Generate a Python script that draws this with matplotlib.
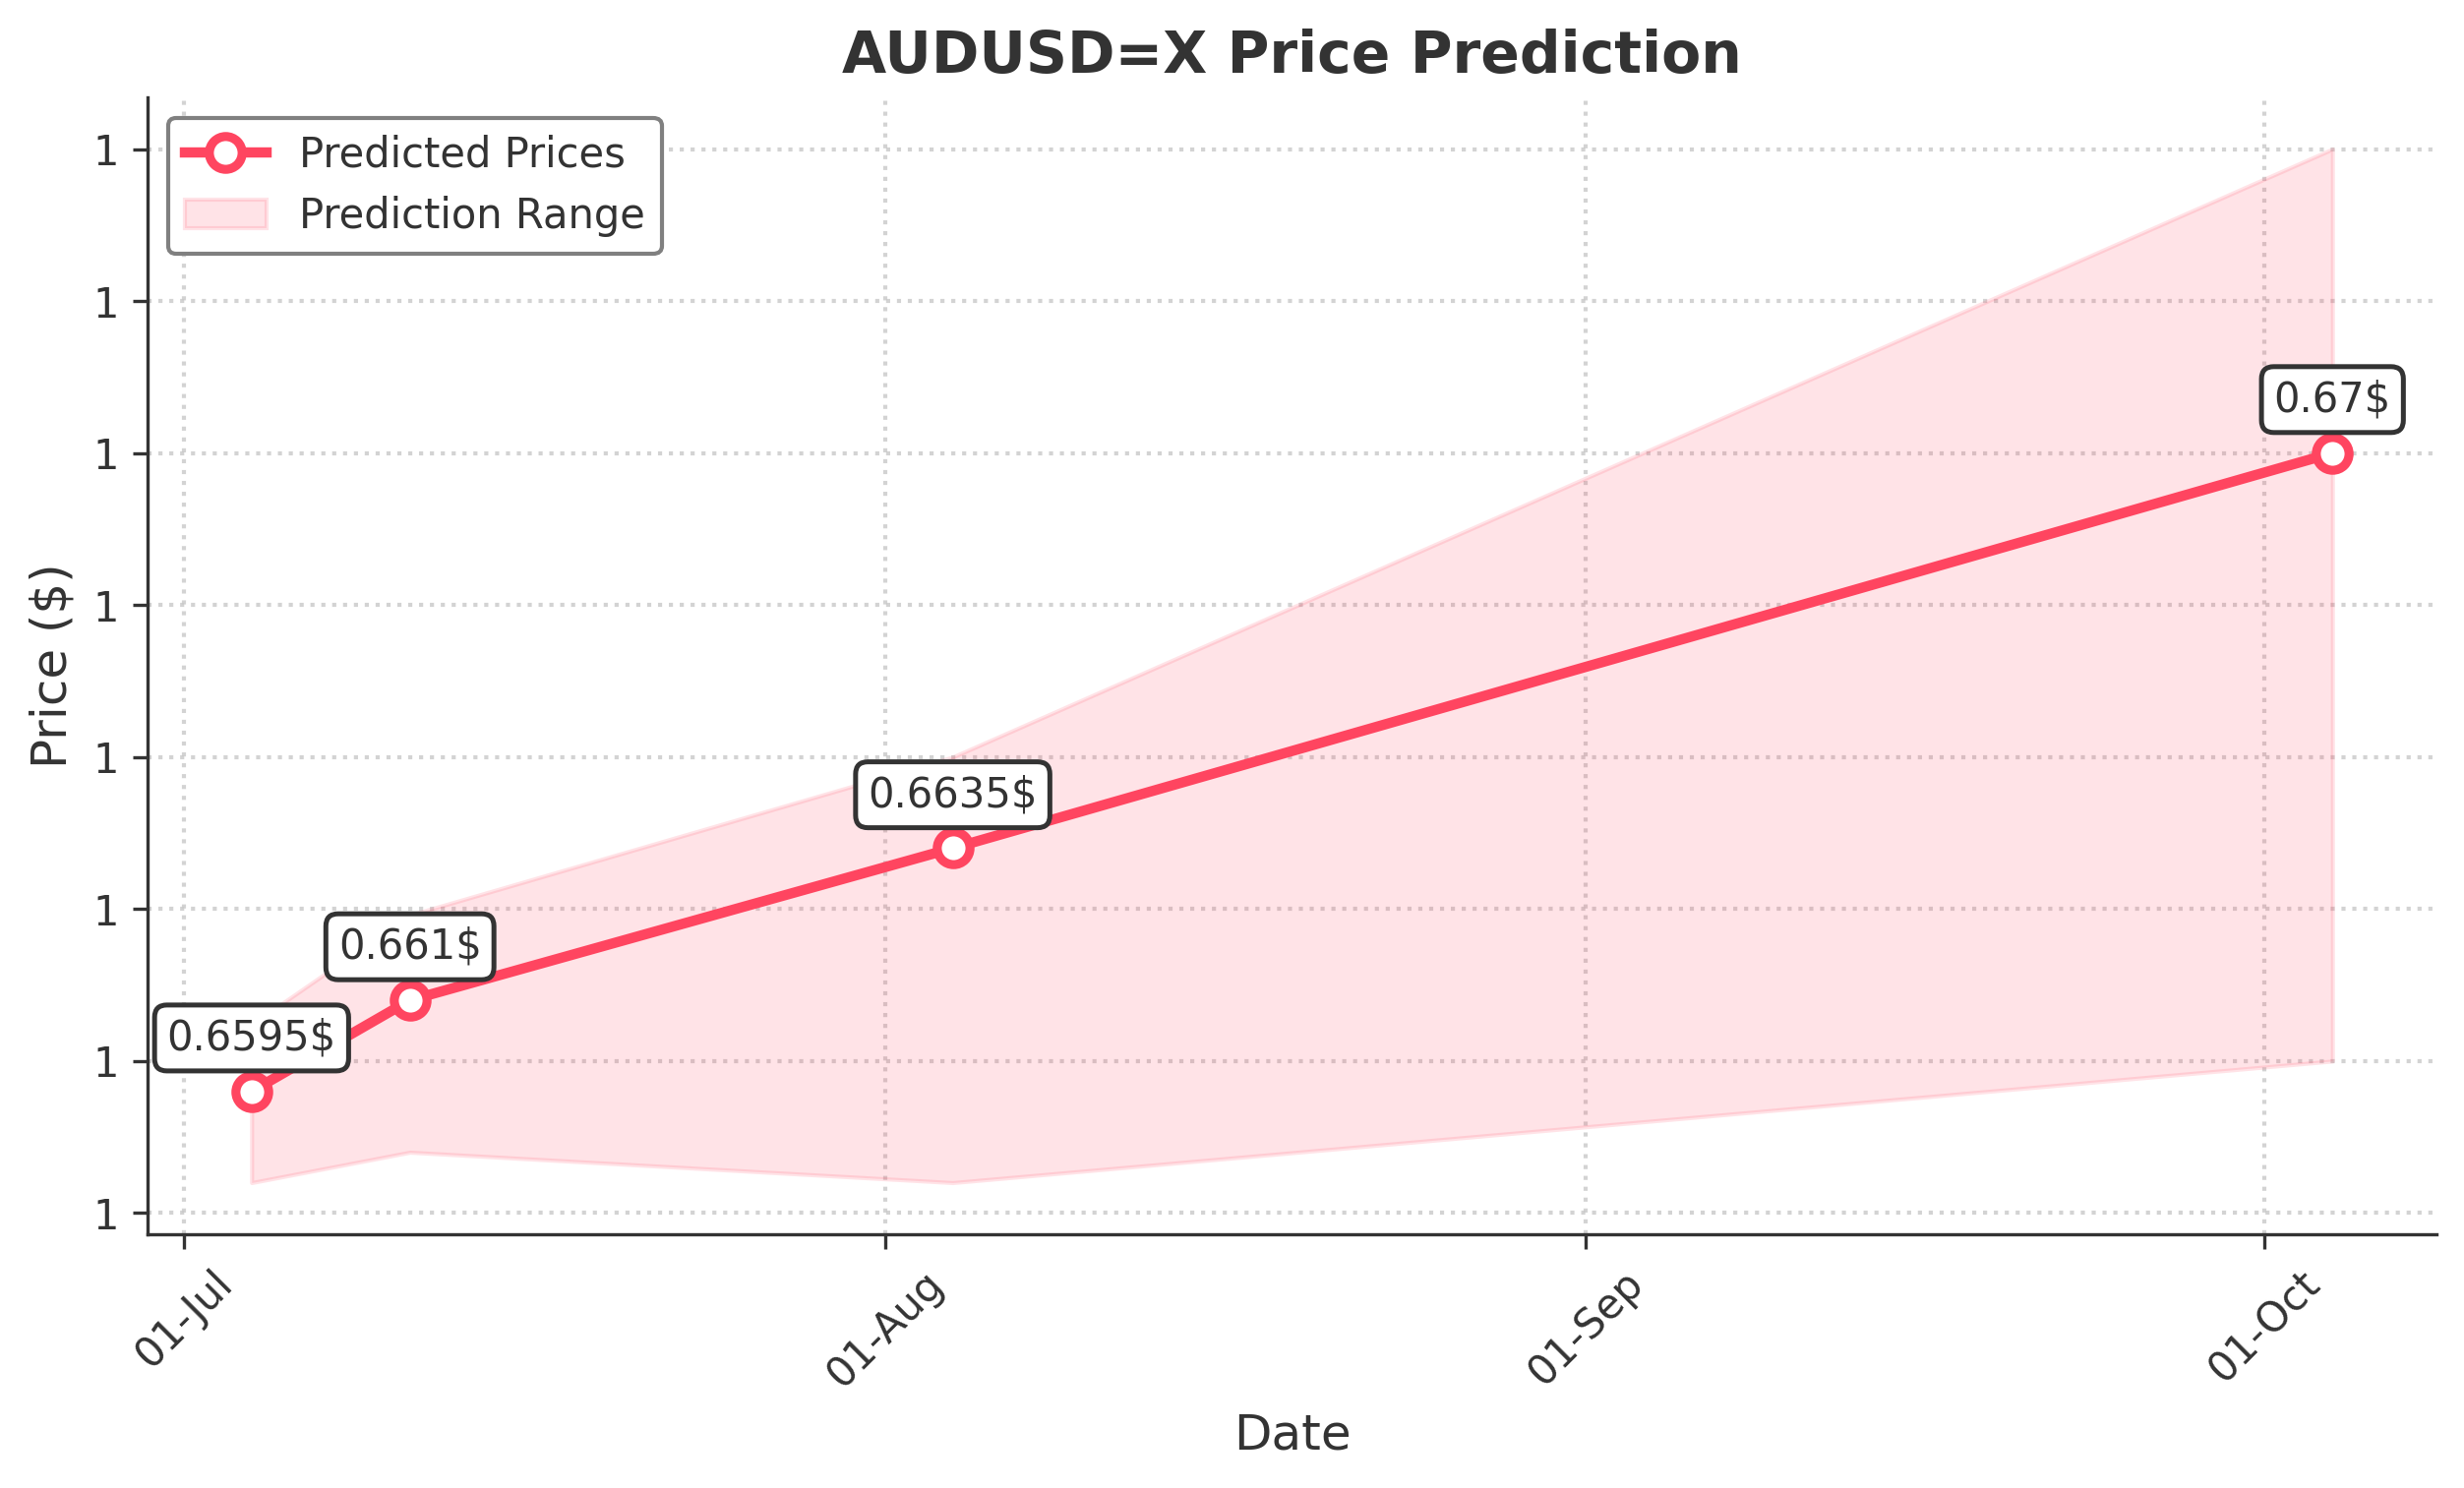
import matplotlib
matplotlib.use("Agg")
import matplotlib.pyplot as plt
import matplotlib.dates as mdates
from matplotlib.ticker import FormatStrFormatter
import pandas as pd

# ---- data ----
dates = ["2024-07-04", "2024-07-11", "2024-08-04", "2024-10-04"]
predicted = [0.6595, 0.661, 0.6635, 0.67]
lower_bound = [0.658, 0.6585, 0.658, 0.66]
upper_bound = [0.6606, 0.6624, 0.665, 0.675]
labels = ["0.6595$", "0.661$", "0.6635$", "0.67$"]
title = "AUDUSD=X Price Prediction"

x = pd.to_datetime(dates)

TXT = "#333333"
RED = "#FF4560"

plt.rcParams["font.family"] = ["DejaVu Sans"]
plt.rcParams["text.color"] = TXT
plt.rcParams["axes.labelcolor"] = TXT
plt.rcParams["xtick.color"] = TXT
plt.rcParams["ytick.color"] = TXT
plt.rcParams["axes.edgecolor"] = TXT

fig = plt.figure(figsize=(2505 / 300, 1513 / 300), dpi=300)
ax = fig.add_axes([150 / 2505, 1 - 1255 / 1513, (2477 - 150) / 2505, (1255 - 99) / 1513])

line, = ax.plot(x, predicted, color=RED, linewidth=2.5, marker="o", markersize=8,
                markerfacecolor="white", markeredgecolor=RED, markeredgewidth=2.2,
                label="Predicted Prices", zorder=3)
band = ax.fill_between(x, lower_bound, upper_bound, color=RED, alpha=0.15,
                       label="Prediction Range", zorder=1)

for xi, yi, lab in zip(x, predicted, labels):
    ax.annotate(lab, (xi, yi), xytext=(0, 8), textcoords="offset points",
                ha="center", va="bottom", fontsize=10, color=TXT,
                bbox=dict(boxstyle="round,pad=0.3", facecolor="white",
                          edgecolor=TXT, linewidth=1.2), zorder=4)

ax.set_title(title, fontsize=14, fontweight="bold", color=TXT, pad=6)
ax.set_xlabel("Date", fontsize=12)
ax.set_ylabel("Price ($)", fontsize=12)

ax.xaxis.set_major_locator(mdates.MonthLocator())
ax.xaxis.set_major_formatter(mdates.DateFormatter("%d-%b"))
ax.yaxis.set_major_formatter(FormatStrFormatter("%.0f"))
plt.setp(ax.get_xticklabels(), rotation=45, fontsize=10)
plt.setp(ax.get_yticklabels(), fontsize=10)

ax.grid(True, linestyle=":", color="#c8c8c8", alpha=0.8, linewidth=1)
ax.set_axisbelow(True)
ax.spines["top"].set_visible(False)
ax.spines["right"].set_visible(False)

leg = ax.legend(handles=[line, band], loc="upper left", fontsize=10, frameon=True,
                fancybox=True, edgecolor="#808080", framealpha=1)
leg.get_frame().set_linewidth(1.0)

fig.savefig("out.png", dpi=300)
